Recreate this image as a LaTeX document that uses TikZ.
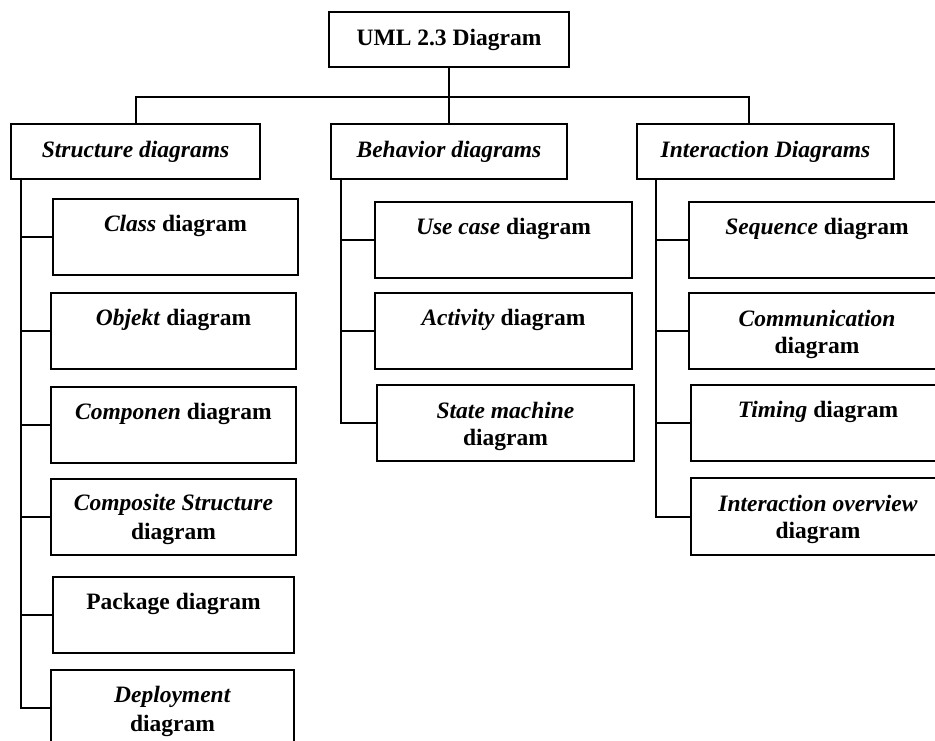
\documentclass[tikz,border=0pt]{standalone}
\usepackage{fontspec}
\setmainfont{Liberation Serif}
\newcommand\ms{\rule[-4pt]{0pt}{27pt}}
\begin{document}
\begin{tikzpicture}[x=1pt,y=-1pt,line width=2pt,
  box/.style={draw, line width=2pt, inner sep=0pt, align=center,
    font=\bfseries\fontsize{23.5}{27}\selectfont},
  hbox/.style={box, minimum height=55pt},
  lbox/.style={box, minimum height=76pt}]
\clip (0,0) rectangle (935,740);
% top
\node[hbox, minimum width=240pt] (top) at (449,39.5) {UML 2.3 Diagram};
% categories
\node[hbox, minimum width=249pt] (struct) at (135.5,151.5) {\textit{Structure diagrams}};
\node[hbox, minimum width=236pt] (behav) at (449,151.5) {\textit{Behavior diagrams}};
\node[hbox, minimum width=257pt] (inter) at (765.5,151.5) {\textit{Interaction Diagrams}};
% structure
\node[lbox, minimum width=245pt] (class) at (175.5,237) {\ms\textit{Class} diagram\\\ms};
\node[lbox, minimum width=245pt] (objekt) at (173.5,331) {\ms\textit{Objekt} diagram\\\ms};
\node[lbox, minimum width=245pt] (componen) at (173.5,425) {\ms\textit{Componen} diagram\\\ms};
\node[lbox, minimum width=245pt] (composite) at (173.5,516.5) {\ms\textit{Composite Structure}\\\ms diagram};
\node[lbox, minimum width=241pt] (package) at (173.5,614.5) {\ms Package diagram\\\ms};
\node[lbox, minimum width=243pt] (deploy) at (172.5,708) {\ms\textit{Deployment}\\\ms diagram};
% behavior
\node[lbox, minimum width=257pt] (usecase) at (503.5,239.5) {\ms\textit{Use case} diagram\\\ms};
\node[lbox, minimum width=257pt] (activity) at (503.5,331) {\ms\textit{Activity} diagram\\\ms};
\node[lbox, minimum width=257pt] (state) at (505.5,423) {\ms\textit{State machine}\\\ms diagram};
% interaction
\node[lbox, minimum width=256pt] (seq) at (817,239.5) {\ms\textit{Sequence} diagram\\\ms};
\node[lbox, minimum width=256pt] (comm) at (817,331) {\ms\textit{Communication}\\\ms diagram};
\node[lbox, minimum width=254pt] (timing) at (818,423) {\ms\textit{Timing} diagram\\\ms};
\node[lbox, minimum width=254pt, minimum height=77pt] (io) at (818,516.5) {\ms\textit{Interaction overview}\\\ms diagram};
% top connectors
\coordinate (jL) at (135.5,97);
\coordinate (jR) at (749,97);
\draw (top.south) -- (top.south |- behav.north);
\draw (struct.north) -- (struct.north |- jL) -- (jR) -- (jR |- inter.north);
% trunks
\coordinate (ts) at (21,0);
\coordinate (tb) at (341,0);
\coordinate (ti) at (656,0);
\draw (struct.south -| ts) |- (deploy.west);
\foreach \n in {class,objekt,componen,composite,package}
  \draw (\n.west -| ts) -- (\n.west);
\draw (behav.south -| tb) |- (state.west);
\foreach \n in {usecase,activity}
  \draw (\n.west -| tb) -- (\n.west);
\draw (inter.south -| ti) |- (io.west);
\foreach \n in {seq,comm,timing}
  \draw (\n.west -| ti) -- (\n.west);
\end{tikzpicture}
\end{document}
